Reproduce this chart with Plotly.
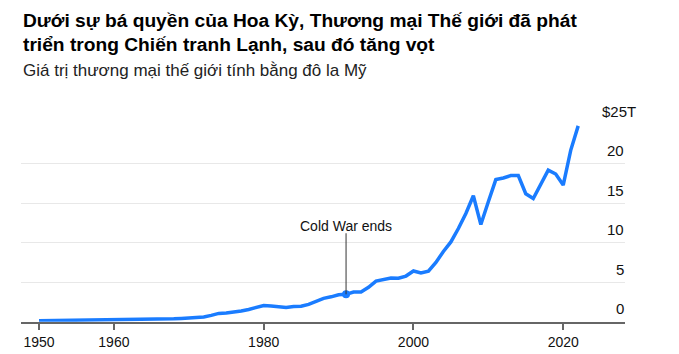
import plotly.graph_objects as go

years = list(range(1950, 2023))
trade = [0.12, 0.13, 0.13, 0.13, 0.14, 0.15, 0.16, 0.17, 0.17, 0.18,
         0.19, 0.20, 0.21, 0.23, 0.26, 0.28, 0.31, 0.33, 0.36, 0.41,
         0.46, 0.50, 0.60, 0.80, 1.05, 1.10, 1.20, 1.35, 1.55, 1.85,
         2.05, 2.00, 1.85, 1.80, 1.92, 1.95, 2.20, 2.60, 2.95, 3.15,
         3.40, 3.47, 3.76, 3.76, 4.35, 5.15, 5.36, 5.53, 5.50, 5.78,
         6.42, 6.16, 6.40, 7.50, 8.90, 10.10, 11.80, 13.70, 15.95, 12.30,
         15.20, 18.00, 18.20, 18.50, 18.50, 16.20, 15.60, 17.50, 19.20, 18.70,
         17.30, 21.70, 24.80]

x_ticks = [1950, 1960, 1980, 2000, 2020]
y_ticks = [0, 5, 10, 15, 20, 25]
y_tick_labels = ["0", "5", "10", "15", "20", "$25T"]

event_year = 1991
event_label = "Cold War ends"

title_lines = ["Dưới sự bá quyền của Hoa Kỳ, Thương mại Thế giới đã phát",
               "triển trong Chiến tranh Lạnh, sau đó tăng vọt"]
subtitle = "Giá trị thương mại thế giới tính bằng đô la Mỹ"

W, H = 679, 354
FONT = "Liberation Sans, Arial, sans-serif"
BLUE = "#1a7cff"

event_value = trade[years.index(event_year)]

fig = go.Figure()
fig.add_trace(go.Scatter(x=years, y=trade, mode="lines",
                         line=dict(color=BLUE, width=3.5),
                         hoverinfo="skip", showlegend=False))
fig.add_trace(go.Scatter(x=[event_year], y=[event_value], mode="markers",
                         marker=dict(color=BLUE, size=8),
                         hoverinfo="skip", showlegend=False))

fig.add_shape(type="line", xref="x", yref="y",
              x0=event_year, x1=event_year, y0=event_value, y1=11.2,
              line=dict(color="#333333", width=1))

annotations = []
annotations.append(dict(x=event_year, y=12.15, xref="x", yref="y",
                        text=event_label, showarrow=False,
                        xanchor="center", yanchor="middle",
                        font=dict(family=FONT, size=14, color="#111111")))

for v, lab in zip(y_ticks, y_tick_labels):
    annotations.append(dict(x=(638 if lab.startswith("$") else 626) / W, xref="paper",
                            y=v, yref="y", text=lab, showarrow=False,
                            xanchor="right", yanchor="middle", yshift=13,
                            font=dict(family=FONT, size=15, color="#111111")))

annotations.append(dict(x=21 / W, y=1 - 8 / H, xref="paper", yref="paper",
                        text="<b>" + title_lines[0] + "</b>", showarrow=False,
                        xanchor="left", yanchor="top", align="left",
                        font=dict(family=FONT, size=19.2, color="#000000")))
annotations.append(dict(x=21 / W, y=1 - 32 / H, xref="paper", yref="paper",
                        text="<b>" + title_lines[1] + "</b>", showarrow=False,
                        xanchor="left", yanchor="top", align="left",
                        font=dict(family=FONT, size=19.2, color="#000000")))
annotations.append(dict(x=21 / W, y=1 - 59 / H, xref="paper", yref="paper",
                        text=subtitle, showarrow=False,
                        xanchor="left", yanchor="top", align="left",
                        font=dict(family=FONT, size=17, color="#222222")))

x_left_px, x_right_px = 21, 624
px_per_year = 7.476
x0_px = 39
xr = [1950 - (x0_px - x_left_px) / px_per_year, 1950 + (x_right_px - x0_px) / px_per_year]

y_bottom_px, y_top_px = 321.7, 124.3

fig.update_layout(
    width=W, height=H,
    margin=dict(l=0, r=0, t=0, b=0),
    paper_bgcolor="white", plot_bgcolor="white",
    annotations=annotations,
    xaxis=dict(domain=[x_left_px / W, (x_right_px + 1) / W], range=xr,
               tickmode="array", tickvals=x_ticks, ticktext=[str(t) for t in x_ticks],
               ticks="outside", ticklen=6, tickwidth=1.5, tickcolor="#666666",
               showline=True, linecolor="#666666", linewidth=2,
               showgrid=False, zeroline=False,
               tickfont=dict(family=FONT, size=14, color="#111111")),
    yaxis=dict(domain=[1 - y_bottom_px / H, 1 - y_top_px / H], range=[0, 25],
               tickmode="array", tickvals=y_ticks, showticklabels=False,
               showgrid=True, gridcolor="#e8e8e8", gridwidth=1.2,
               zeroline=False, showline=False),
)

fig.write_html("out.html")
